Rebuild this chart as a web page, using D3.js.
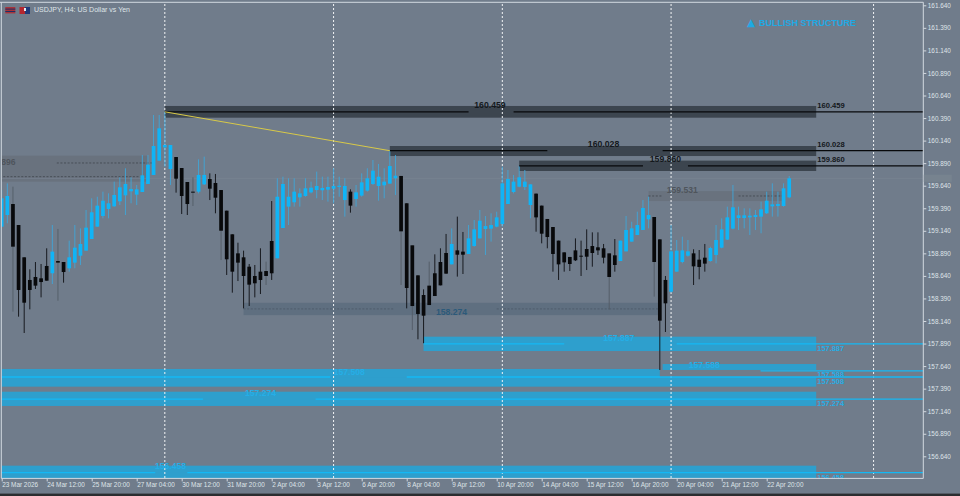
<!DOCTYPE html>
<html>
  <head>
    <title>USDJPY H4</title>
    <script src="https://d3js.org/d3.v7.min.js"></script>
    <style>
      html, body { margin: 0; padding: 0; background: #707c8b; overflow: hidden; }
      svg { display: block; font-family: "Liberation Sans", sans-serif; }
      .axis text { fill: #dfe4e9; font-size: 6.4px; font-family: "Liberation Sans", sans-serif; }
      .axis line, .axis path { stroke: #d3d9e0; stroke-width: 1; }
      .dark-label { fill: #14181c; font-weight: bold; }
      .blue-label { fill: #25aee6; font-weight: bold; }
    </style>
  </head>
  <body>
    <div id="chart"></div>
    <script>
      const timeLabels = ["23 Mar 2026", "24 Mar 12:00", "25 Mar 20:00", "27 Mar 04:00", "30 Mar 12:00", "31 Mar 20:00",
        "2 Apr 04:00", "3 Apr 12:00", "6 Apr 20:00", "8 Apr 04:00", "9 Apr 12:00", "10 Apr 20:00",
        "14 Apr 04:00", "15 Apr 12:00", "16 Apr 20:00", "20 Apr 04:00", "21 Apr 12:00", "22 Apr 20:00"];
      const priceTicks = [161.64, 161.39, 161.14, 160.89, 160.64, 160.39, 160.14, 159.89, 159.64, 159.39, 159.14,
        158.89, 158.64, 158.39, 158.14, 157.89, 157.64, 157.39, 157.14, 156.89, 156.64];
      const separators = [29, 59, 89, 119, 155];

      const opens = [159.186,159.315,159.437,159.204,158.846,158.595,158.628,158.613,158.750,158.669,
        158.805,158.794,158.724,158.787,158.864,158.920,159.049,159.186,159.304,159.382,
        159.411,159.467,159.533,159.578,159.541,159.570,159.659,159.759,159.918,160.065,
        159.825,159.958,159.836,159.681,159.574,159.574,159.655,159.714,159.670,159.592,
        159.363,159.101,158.890,158.846,158.742,158.639,158.687,158.694,159.027,158.835,
        159.171,159.408,159.456,159.511,159.526,159.566,159.592,159.589,159.596,159.607,
        159.626,159.481,159.574,159.493,159.530,159.585,159.659,159.637,159.644,159.663,
        159.722,159.748,159.445,158.979,158.646,158.428,158.532,158.669,158.794,158.894,
        158.768,158.923,158.909,158.883,158.971,159.056,159.160,159.164,159.186,159.215,
        159.437,159.570,159.629,159.626,159.426,159.552,159.419,159.271,159.182,159.031,
        158.901,158.850,158.923,158.864,158.938,158.971,158.957,158.946,158.890,158.868,
        158.805,158.912,159.020,159.093,159.149,159.267,159.293,159.045,158.595,158.465,
        158.687,158.794,158.864,158.890,158.820,158.842,158.805,158.872,158.953,159.042,
        159.164,159.282,159.282,159.289,159.293,159.297,159.334,159.411,159.415,159.415,159.511];
      const highs = [159.592,159.666,159.629,159.204,158.846,158.713,158.794,158.772,158.946,159.204,
        159.160,158.794,159.031,159.204,159.167,159.371,159.500,159.518,159.574,159.555,
        159.685,159.733,159.833,159.733,159.648,159.980,159.980,160.424,160.424,160.459,
        160.091,159.958,159.836,159.681,159.733,159.932,159.962,159.777,159.770,159.592,
        159.363,159.101,159.008,158.920,158.772,158.761,158.946,158.798,159.470,159.722,
        159.740,159.722,159.722,159.611,159.722,159.685,159.796,159.740,159.740,159.833,
        159.740,159.722,159.600,159.648,159.777,159.833,159.925,159.881,159.833,160.028,
        159.980,159.748,159.445,158.979,158.646,158.491,158.798,158.879,158.946,159.105,
        159.167,159.297,159.127,159.204,159.260,159.371,159.304,159.334,159.352,159.851,
        159.814,159.759,159.860,159.814,159.655,159.552,159.419,159.271,159.182,159.031,
        158.901,158.850,159.056,159.031,159.156,159.123,159.123,158.994,158.890,159.049,
        159.031,159.304,159.241,159.352,159.481,159.518,159.293,159.045,158.639,159.204,
        159.038,159.075,159.038,158.935,158.927,158.994,158.964,159.204,159.278,159.408,
        159.648,159.408,159.389,159.389,159.371,159.463,159.574,159.666,159.574,159.666,159.748];
      const lows = [159.178,159.223,158.244,158.188,158.007,158.269,158.495,158.402,158.587,158.550,
        158.365,158.565,158.687,158.724,158.761,158.920,159.049,159.186,159.278,159.278,
        159.408,159.426,159.315,159.445,159.426,159.570,159.659,159.759,159.918,159.851,
        159.648,159.563,159.326,159.315,159.415,159.555,159.648,159.481,159.334,158.816,
        158.650,158.454,158.583,158.280,158.306,158.402,158.439,158.539,158.595,158.835,
        159.171,159.204,159.408,159.408,159.518,159.555,159.500,159.481,159.463,159.445,
        159.518,159.297,159.341,159.408,159.518,159.574,159.648,159.474,159.500,159.663,
        159.537,158.539,158.280,158.040,157.937,157.892,158.317,158.417,158.535,158.665,
        158.768,158.632,158.661,158.883,158.964,159.056,158.872,159.020,159.178,159.186,
        159.437,159.555,159.622,159.592,159.278,159.130,159.001,158.946,158.687,158.595,
        158.687,158.694,158.805,158.639,158.705,158.742,158.872,158.779,158.269,158.687,
        158.805,158.912,159.020,159.093,159.149,159.167,158.410,157.597,158.018,158.454,
        158.687,158.779,158.853,158.539,158.602,158.687,158.798,158.779,158.946,159.038,
        159.156,159.149,159.167,159.093,159.149,159.112,159.326,159.297,159.297,159.408,159.500];
      const closes = [159.500,159.526,158.964,158.484,158.343,158.484,158.532,158.572,158.587,158.909,
        158.787,158.683,158.846,158.953,158.994,159.175,159.345,159.419,159.474,159.445,
        159.537,159.622,159.659,159.603,159.600,159.755,159.873,160.080,160.276,160.091,
        160.091,159.718,159.526,159.437,159.563,159.759,159.759,159.607,159.507,159.141,
        158.824,158.687,158.787,158.639,158.543,158.558,158.595,158.639,158.669,159.518,
        159.659,159.518,159.574,159.555,159.611,159.618,159.637,159.615,159.626,159.637,
        159.640,159.637,159.419,159.566,159.677,159.722,159.807,159.740,159.685,159.858,
        159.751,159.134,158.506,158.306,158.218,158.199,158.317,158.417,158.535,158.665,
        158.994,158.875,158.875,159.056,159.156,159.252,159.193,159.204,159.289,159.666,
        159.714,159.685,159.733,159.685,159.655,159.289,159.108,159.071,158.883,158.768,
        158.790,158.772,158.813,158.853,158.853,158.894,158.923,158.842,158.628,158.761,
        159.031,159.149,159.167,159.204,159.393,159.315,158.794,158.144,158.336,158.912,
        158.920,158.923,158.912,158.746,158.739,158.776,158.949,159.038,159.156,159.289,
        159.400,159.312,159.312,159.308,159.315,159.378,159.474,159.433,159.437,159.611,159.722];
      // candles whose wick shows grey, not black
      const greyWicks = [2, 10, 34, 39, 47, 71, 73, 76, 108, 116];

      // zones as [firstBar, lastBar, top price, bottom price]
      const darkZones = [[29, 144.8, 160.524, 160.394], [69, 144.8, 160.080, 159.969], [92, 144.8, 159.918, 159.803]];
      const greyZones = [[-1, 26, 159.973, 159.685], [115, 139, 159.580, 159.470]];
      const slateZones = [[43, 116.7, 158.342, 158.205]];
      const blueZones = [[75, 144.8, 157.966, 157.807], [117.5, 144.8, 157.663, 157.597], [-1, 117, 157.608, 157.519],
        [-1, 144.8, 157.519, 157.412], [-1, 144.8, 157.356, 157.198], [-1, 144.8, 156.536, 156.380]];

      // level lines as [price, segments in bars]
      const darkLevels = [[160.459, [[29, 83], [91, 164]]], [160.028, [[69, 97], [117.5, 164]]], [159.860, [[92, 114], [122, 164]]]];
      const blueLevels = [[157.887, [[75, 100], [120, 164]]], [157.588, [[134.9, 164]]], [157.519, [[-1, 58.4], [72, 164]]],
        [157.274, [[-1, 35.8], [55.8, 164]]], [156.458, [[-1, 27.3], [33, 164]]]];
      const dashedLevels = [[159.892, 9.8, 26.7], [159.740, -1, 24.6], [158.274, 43, 69.6], [158.274, 88, 108], [158.274, 108, 116.7],
        [159.526, 115, 117.5], [159.526, 131, 139]];
      const trendBars = [29, 69];
      const trendPrices = [160.459, 160.028];

      // text labels as [text, bar, price]
      const darkMidLabels = [["160.459", 86.8, 160.459], ["160.028", 107, 160.028], ["159.860", 118, 159.860]];
      const greyMidLabels = [["159.531", 121, 159.531], ["896", -0.1, 159.896]];
      const blueMidLabels = [["157.887", 109.7, 157.887], ["157.588", 124.9, 157.588], ["157.508", 61.8, 157.508],
        ["157.274", 46, 157.274], ["156.458", 30, 156.458]];
      const darkEndLabels = [160.459, 160.028, 159.860];
      const blueEndLabels = [[157.887, "157.887"], [157.588, "157.588"], [157.519, "157.508"], [157.274, "157.274"], [156.458, "156.458"]];

      const width = 960, height = 496;
      const plotRight = 923.3, plotBottom = 478.4;

      const x = d3.scaleLinear().domain([0, 140]).range([1.7, 789.2]);
      const y = d3.scaleLinear().domain([156.64, 160.64]).range([456.3, 95.5]);
      const step = x(1) - x(0);

      const svg = d3.select("#chart").append("svg").attr("width", width).attr("height", height);
      svg.append("rect").attr("width", width).attr("height", height).attr("fill", "#707c8b");

      svg.append("clipPath").attr("id", "plot").append("rect")
        .attr("x", 1.5).attr("y", 2.5).attr("width", plotRight - 1.5).attr("height", plotBottom - 2.5);
      const plot = svg.append("g").attr("clip-path", "url(#plot)");

      function drawZones(list, colour) {
        plot.append("g").selectAll("rect").data(list).enter().append("rect")
          .attr("x", (d) => x(d[0]))
          .attr("y", (d) => y(d[2]))
          .attr("width", (d) => x(d[1]) - x(d[0]))
          .attr("height", (d) => y(d[3]) - y(d[2]))
          .attr("fill", colour);
      }
      drawZones(greyZones, "#69727e");
      drawZones(slateZones, "#5f6f80");
      drawZones(darkZones, "#3c454f");
      drawZones(blueZones, "#2e9fcd");

      // period separators
      plot.append("g").selectAll("line").data(separators).enter().append("line")
        .attr("x1", (d) => x(d)).attr("x2", (d) => x(d))
        .attr("y1", 0).attr("y2", plotBottom)
        .attr("stroke", "#f2f4f6").attr("stroke-width", 1).attr("stroke-dasharray", "2,2");

      // bid line
      plot.append("line").attr("x1", 0).attr("x2", plotRight)
        .attr("y1", y(closes[140])).attr("y2", y(closes[140]))
        .attr("stroke", "#7a8594").attr("stroke-width", 0.7);

      plot.append("g").selectAll("line").data(dashedLevels).enter().append("line")
        .attr("x1", (d) => x(d[1])).attr("x2", (d) => x(d[2]))
        .attr("y1", (d) => y(d[0])).attr("y2", (d) => y(d[0]))
        .attr("stroke", (d) => d[0] === 158.274 ? "#4a5866" : "#3f454c")
        .attr("stroke-width", 0.8).attr("stroke-dasharray", "2,1.6");

      // candles
      const candles = plot.append("g").selectAll("g").data(opens).enter().append("g");
      candles.append("line")
        .attr("x1", (d, i) => x(i)).attr("x2", (d, i) => x(i))
        .attr("y1", (d, i) => y(highs[i])).attr("y2", (d, i) => y(lows[i]))
        .attr("stroke-width", 0.9)
        .attr("stroke", (d, i) => closes[i] >= d ? "#3fa6d8" : greyWicks.includes(i) ? "#525b65" : "#0d0f12");
      candles.append("rect")
        .attr("x", (d, i) => x(i) - step * 0.33)
        .attr("width", step * 0.66)
        .attr("y", (d, i) => y(Math.max(d, closes[i])))
        .attr("height", (d, i) => Math.max(1, Math.abs(y(d) - y(closes[i]))))
        .attr("fill", (d, i) => closes[i] >= d ? "#10b4f6" : "#08090b");

      function drawLevels(list, colour, w) {
        list.forEach(([price, segments]) => {
          plot.append("g").selectAll("line").data(segments).enter().append("line")
            .attr("x1", (d) => x(d[0])).attr("x2", (d) => x(d[1]))
            .attr("y1", y(price)).attr("y2", y(price))
            .attr("stroke", colour).attr("stroke-width", w);
        });
      }
      drawLevels(darkLevels, "#07090b", 1.2);
      drawLevels(blueLevels, "#14b8f4", 1.3);

      const trend = d3.line().x((d) => x(d)).y((d, i) => y(trendPrices[i]));
      plot.append("path").attr("d", trend(trendBars)).attr("fill", "none")
        .attr("stroke", "#d8c948").attr("stroke-width", 1);

      // labels on the zones
      plot.append("g").selectAll("text").data(darkMidLabels).enter().append("text")
        .attr("class", "dark-label").attr("x", (d) => x(d[1])).attr("y", (d) => y(d[2]) - 6)
        .attr("text-anchor", "middle").attr("dominant-baseline", "middle").attr("font-size", 8.7)
        .text((d) => d[0]);
      plot.append("g").selectAll("text").data(greyMidLabels).enter().append("text")
        .attr("x", (d) => x(d[1])).attr("y", (d) => y(d[2]) + (d[0] === "896" ? 0 : -5))
        .attr("text-anchor", (d) => d[0] === "896" ? "start" : "middle").attr("dominant-baseline", "middle")
        .attr("font-size", 8.6).attr("font-weight", "bold").attr("fill", "#4f555c").text((d) => d[0]);
      plot.append("text").attr("x", x(77.2)).attr("y", y(158.274) + 4)
        .attr("dominant-baseline", "middle").attr("font-size", 8.6).attr("font-weight", "bold")
        .attr("fill", "#2c5a7a").text("158.274");
      plot.append("g").selectAll("text").data(blueMidLabels).enter().append("text")
        .attr("class", "blue-label").attr("x", (d) => x(d[1])).attr("y", (d) => y(d[2]) - 5.5)
        .attr("text-anchor", "middle").attr("dominant-baseline", "middle").attr("font-size", 8.6)
        .text((d) => d[0]);
      plot.append("g").selectAll("text").data(darkEndLabels).enter().append("text")
        .attr("class", "dark-label").attr("x", x(145)).attr("y", (d) => y(d) - 6)
        .attr("dominant-baseline", "middle").attr("font-size", 7.6).text((d) => d.toFixed(3));
      plot.append("g").selectAll("text").data(blueEndLabels).enter().append("text")
        .attr("class", "blue-label").attr("x", x(145)).attr("y", (d) => y(d[0]) + (d[0] === 157.588 ? 4 : 5.2))
        .attr("dominant-baseline", "middle").attr("font-size", 7.4).text((d) => d[1]);

      // axes
      const yAxis = d3.axisRight(y).tickValues(priceTicks).tickFormat(d3.format(".3f")).tickSize(3).tickPadding(1.5);
      svg.append("g").attr("class", "axis").attr("transform", `translate(${plotRight},0)`).call(yAxis)
        .call((g) => g.select(".domain").remove());
      const xAxis = d3.axisBottom(x).tickValues(timeLabels.map((d, i) => i * 8)).tickFormat((d) => timeLabels[d / 8])
        .tickSize(3).tickPadding(1.5);
      svg.append("g").attr("class", "axis").attr("transform", `translate(0,${plotBottom})`).call(xAxis)
        .call((g) => g.select(".domain").remove())
        .selectAll("text").attr("text-anchor", "start");

      // frame
      const frame = svg.append("g").attr("stroke", "#d3d9e0").attr("stroke-width", 1);
      frame.append("line").attr("x1", 0).attr("x2", plotRight).attr("y1", 2.3).attr("y2", 2.3);
      frame.append("line").attr("x1", 1.3).attr("x2", 1.3).attr("y1", 2.3).attr("y2", plotBottom);
      frame.append("line").attr("x1", plotRight).attr("x2", plotRight).attr("y1", 2.3).attr("y2", plotBottom);
      frame.append("line").attr("x1", 1.3).attr("x2", plotRight).attr("y1", plotBottom).attr("y2", plotBottom);

      // bid box on the price axis
      svg.append("rect").attr("x", plotRight + 0.5).attr("y", y(closes[140]) - 3.6).attr("width", 28).attr("height", 7.2)
        .attr("fill", "#77838f");

      // header
      svg.append("rect").attr("x", 5.3).attr("y", 7).attr("width", 10).attr("height", 6.4).attr("fill", "#a8343a");
      [8.6, 11].forEach((d) => svg.append("rect").attr("x", 5.3).attr("y", d).attr("width", 10).attr("height", 1).attr("fill", "#1f2f66"));
      svg.append("rect").attr("x", 19.5).attr("y", 7).attr("width", 5.5).attr("height", 7).attr("fill", "#b3272f");
      svg.append("rect").attr("x", 25).attr("y", 7).attr("width", 5).attr("height", 7).attr("fill", "#1f3a7a");
      svg.append("rect").attr("x", 24).attr("y", 8).attr("width", 2).attr("height", 3).attr("fill", "#e8edf2");
      svg.append("text").attr("x", 34).attr("y", 12.4).attr("font-size", 7).attr("fill", "#dfe4e9")
        .text("USDJPY, H4: US Dollar vs Yen");
      const badge = svg.append("text").attr("x", 747).attr("y", 26).attr("font-size", 9).attr("font-weight", "bold")
        .attr("fill", "#1fa9e3");
      badge.append("tspan").attr("font-family", "DejaVu Sans").attr("font-size", 10.5).text("▲");
      badge.append("tspan").attr("x", 759).text("BULLISH STRUCTURE");

      // tab bar at the bottom of the window
      svg.append("rect").attr("x", 0).attr("y", 493.6).attr("width", width).attr("height", 2.4).attr("fill", "#2b2d30");
    </script>
  </body>
</html>
